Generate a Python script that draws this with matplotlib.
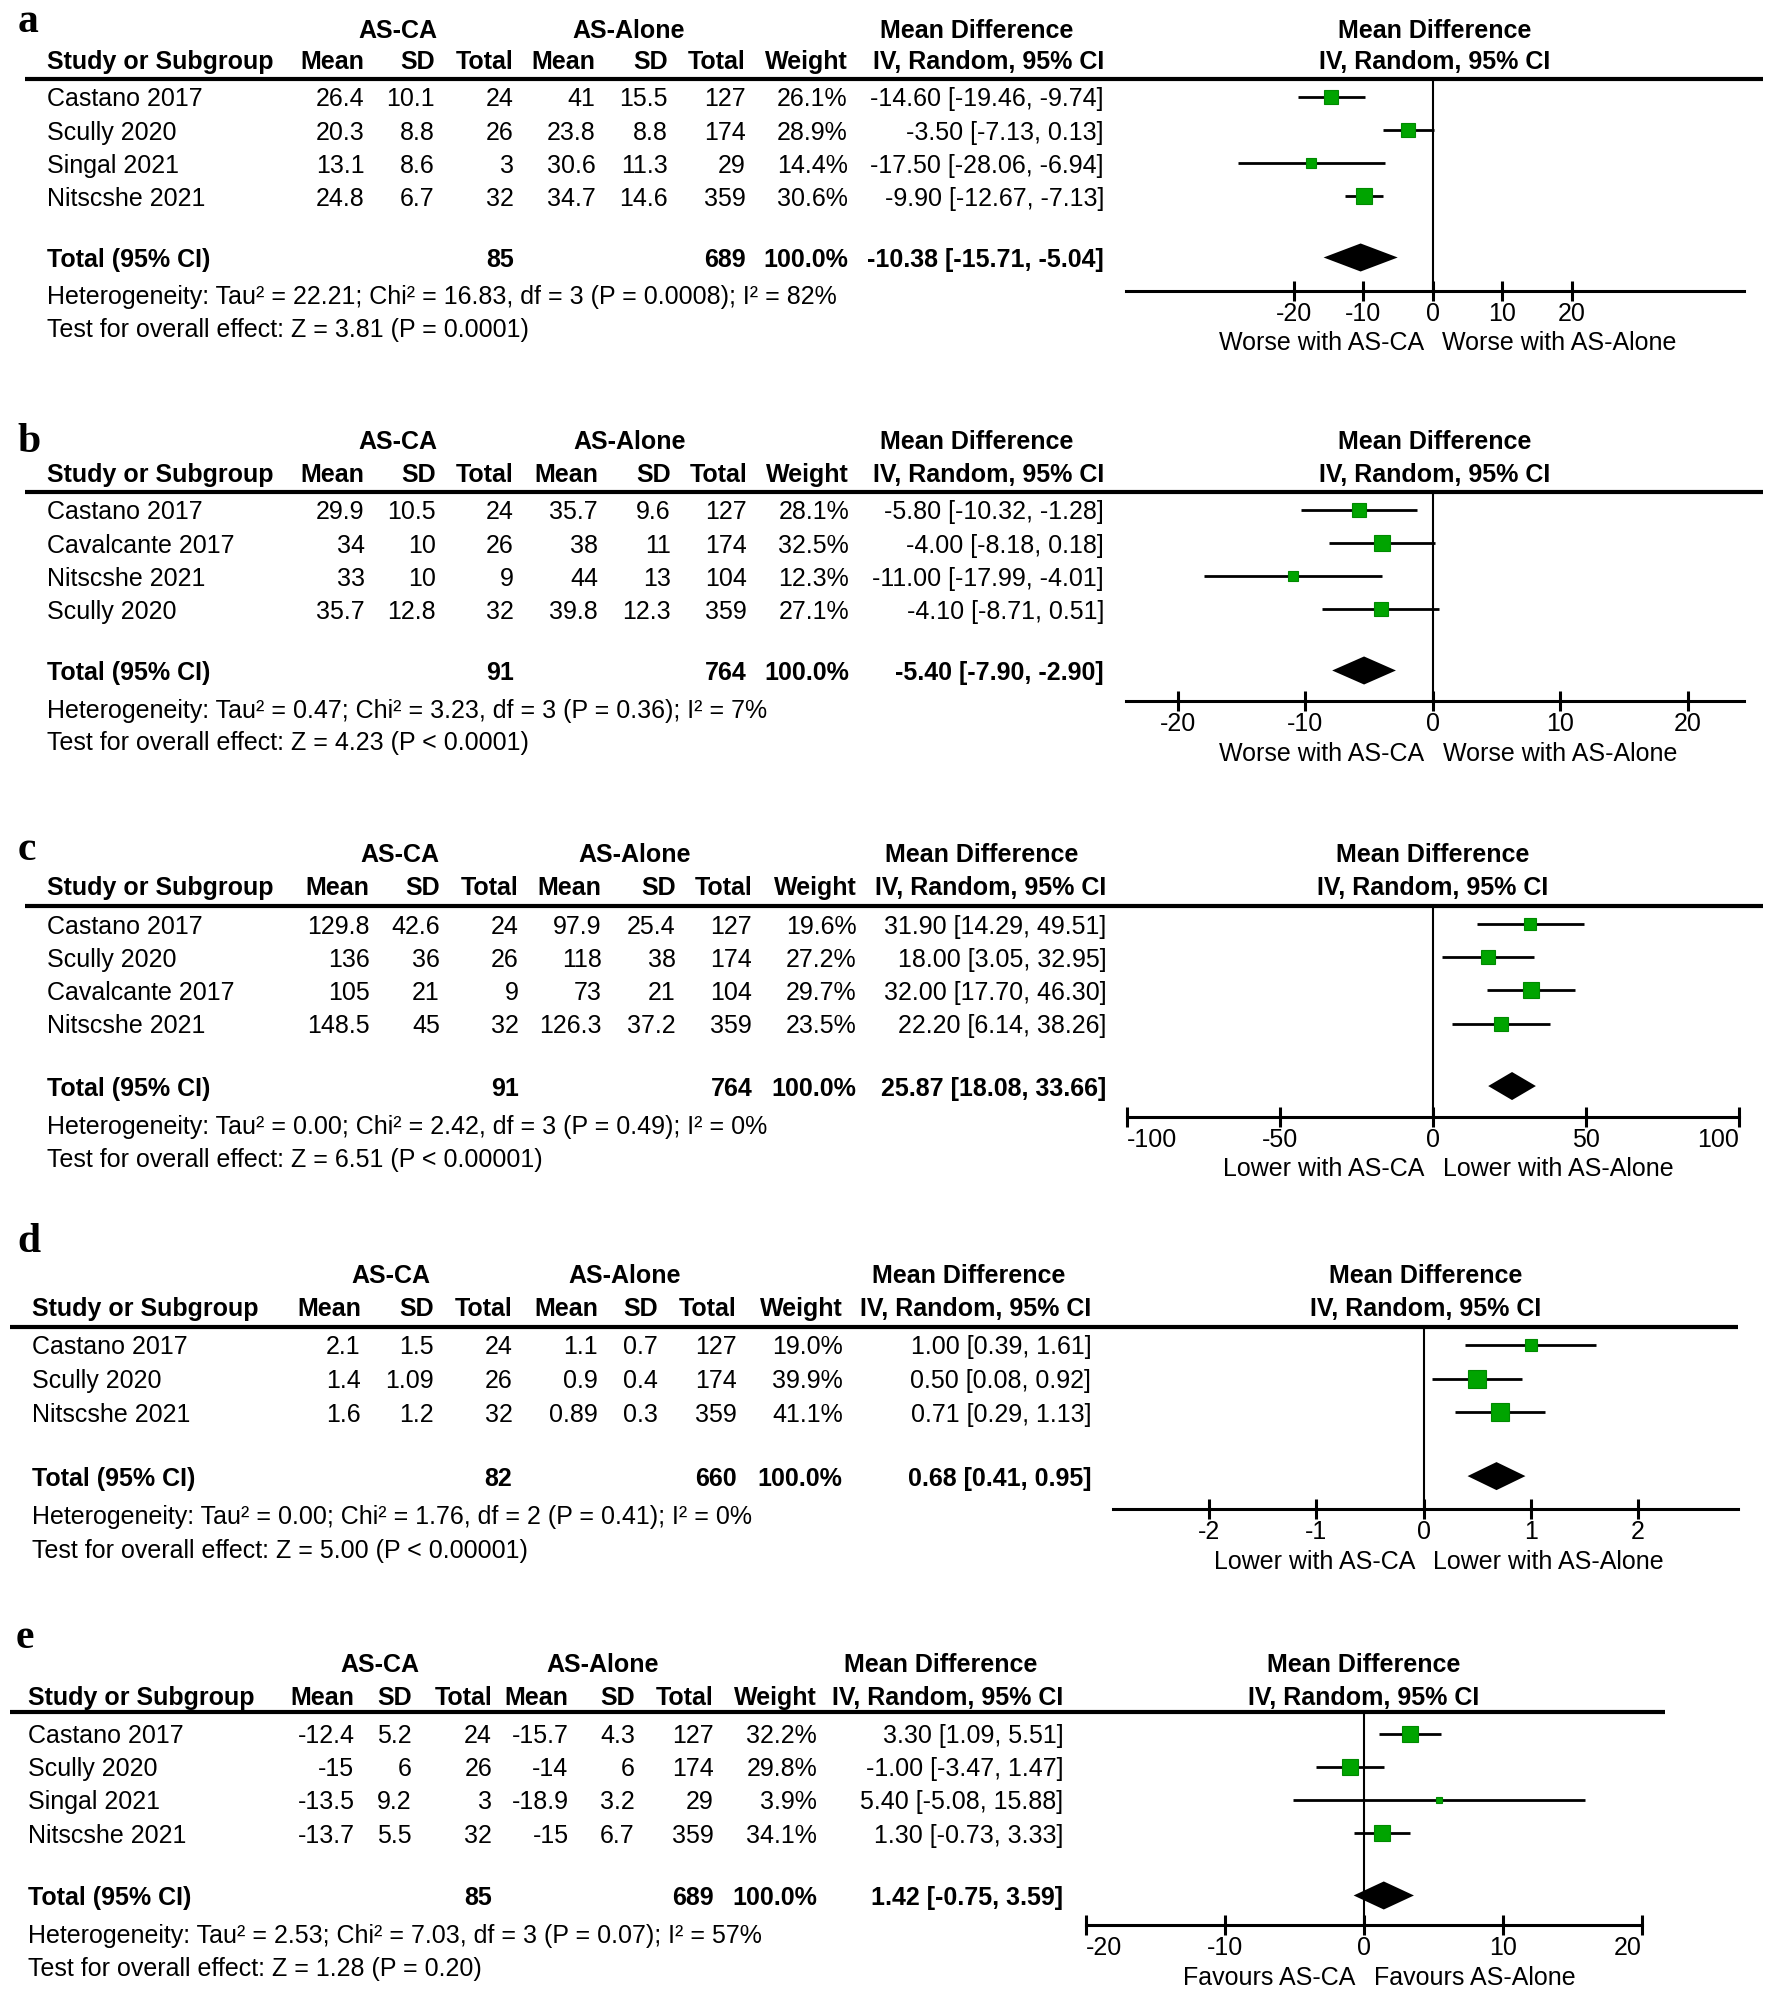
import numpy as np
import matplotlib
matplotlib.use("Agg")
import matplotlib.pyplot as plt

plt.rcParams["font.family"] = ["Liberation Sans", "DejaVu Sans"]

# ============================
# Data (one block per panel)
# ============================

# a
studies_a = ["Castano 2017", "Scully 2020", "Singal 2021", "Nitscshe 2021"]
ca_mean_a = [26.4, 20.3, 13.1, 24.8]
ca_sd_a = [10.1, 8.8, 8.6, 6.7]
ca_n_a = [24, 26, 3, 32]
al_mean_a = [41, 23.8, 30.6, 34.7]
al_sd_a = [15.5, 8.8, 11.3, 14.6]
al_n_a = [127, 174, 29, 359]
weight_a = [26.1, 28.9, 14.4, 30.6]
md_a = [-14.60, -3.50, -17.50, -9.90]
lo_a = [-19.46, -7.13, -28.06, -12.67]
hi_a = [-9.74, 0.13, -6.94, -7.13]
total_a = [85, 689, -10.38, -15.71, -5.04]
het_a = "Heterogeneity: Tau² = 22.21; Chi² = 16.83, df = 3 (P = 0.0008); I² = 82%"
test_a = "Test for overall effect: Z = 3.81 (P = 0.0001)"
ticks_a = [-20, -10, 0, 10, 20]
favours_a = ["Worse with AS-CA", "Worse with AS-Alone"]

# b
studies_b = ["Castano 2017", "Cavalcante 2017", "Nitscshe 2021", "Scully 2020"]
ca_mean_b = [29.9, 34, 33, 35.7]
ca_sd_b = [10.5, 10, 10, 12.8]
ca_n_b = [24, 26, 9, 32]
al_mean_b = [35.7, 38, 44, 39.8]
al_sd_b = [9.6, 11, 13, 12.3]
al_n_b = [127, 174, 104, 359]
weight_b = [28.1, 32.5, 12.3, 27.1]
md_b = [-5.80, -4.00, -11.00, -4.10]
lo_b = [-10.32, -8.18, -17.99, -8.71]
hi_b = [-1.28, 0.18, -4.01, 0.51]
total_b = [91, 764, -5.40, -7.90, -2.90]
het_b = "Heterogeneity: Tau² = 0.47; Chi² = 3.23, df = 3 (P = 0.36); I² = 7%"
test_b = "Test for overall effect: Z = 4.23 (P < 0.0001)"
ticks_b = [-20, -10, 0, 10, 20]
favours_b = ["Worse with AS-CA", "Worse with AS-Alone"]

# c
studies_c = ["Castano 2017", "Scully 2020", "Cavalcante 2017", "Nitscshe 2021"]
ca_mean_c = [129.8, 136, 105, 148.5]
ca_sd_c = [42.6, 36, 21, 45]
ca_n_c = [24, 26, 9, 32]
al_mean_c = [97.9, 118, 73, 126.3]
al_sd_c = [25.4, 38, 21, 37.2]
al_n_c = [127, 174, 104, 359]
weight_c = [19.6, 27.2, 29.7, 23.5]
md_c = [31.90, 18.00, 32.00, 22.20]
lo_c = [14.29, 3.05, 17.70, 6.14]
hi_c = [49.51, 32.95, 46.30, 38.26]
total_c = [91, 764, 25.87, 18.08, 33.66]
het_c = "Heterogeneity: Tau² = 0.00; Chi² = 2.42, df = 3 (P = 0.49); I² = 0%"
test_c = "Test for overall effect: Z = 6.51 (P < 0.00001)"
ticks_c = [-100, -50, 0, 50, 100]
favours_c = ["Lower with AS-CA", "Lower with AS-Alone"]

# d
studies_d = ["Castano 2017", "Scully 2020", "Nitscshe 2021"]
ca_mean_d = [2.1, 1.4, 1.6]
ca_sd_d = [1.5, 1.09, 1.2]
ca_n_d = [24, 26, 32]
al_mean_d = [1.1, 0.9, 0.89]
al_sd_d = [0.7, 0.4, 0.3]
al_n_d = [127, 174, 359]
weight_d = [19.0, 39.9, 41.1]
md_d = [1.00, 0.50, 0.71]
lo_d = [0.39, 0.08, 0.29]
hi_d = [1.61, 0.92, 1.13]
total_d = [82, 660, 0.68, 0.41, 0.95]
het_d = "Heterogeneity: Tau² = 0.00; Chi² = 1.76, df = 2 (P = 0.41); I² = 0%"
test_d = "Test for overall effect: Z = 5.00 (P < 0.00001)"
ticks_d = [-2, -1, 0, 1, 2]
favours_d = ["Lower with AS-CA", "Lower with AS-Alone"]

# e
studies_e = ["Castano 2017", "Scully 2020", "Singal 2021", "Nitscshe 2021"]
ca_mean_e = [-12.4, -15, -13.5, -13.7]
ca_sd_e = [5.2, 6, 9.2, 5.5]
ca_n_e = [24, 26, 3, 32]
al_mean_e = [-15.7, -14, -18.9, -15]
al_sd_e = [4.3, 6, 3.2, 6.7]
al_n_e = [127, 174, 29, 359]
weight_e = [32.2, 29.8, 3.9, 34.1]
md_e = [3.30, -1.00, 5.40, 1.30]
lo_e = [1.09, -3.47, -5.08, -0.73]
hi_e = [5.51, 1.47, 15.88, 3.33]
total_e = [85, 689, 1.42, -0.75, 3.59]
het_e = "Heterogeneity: Tau² = 2.53; Chi² = 7.03, df = 3 (P = 0.07); I² = 57%"
test_e = "Test for overall effect: Z = 1.28 (P = 0.20)"
ticks_e = [-20, -10, 0, 10, 20]
favours_e = ["Favours AS-CA", "Favours AS-Alone"]

# ============================
# Layout (page units: 1390 x 1569)
# ============================

W, H = 1390, 1569
FS = 18
DY = 2  # small downward nudge for text rows
GREEN = "#00a400"

fig = plt.figure(figsize=(17.72, 20), dpi=100)
lay = fig.add_axes([0, 0, 1, 1])
lay.set_xlim(0, W)
lay.set_ylim(H, 0)
lay.axis("off")


def fmt(v):
    return f"{v:g}"


def txt(x, y, s, **kw):
    kw.setdefault("fontsize", FS)
    kw.setdefault("va", "center")
    lay.text(x, y + DY, s, **kw)


def draw_panel(letter, lt, studies, cols, weight, md, lo, hi, total,
               het, test, ticks, favours):
    txt(lt["letter"][0], lt["letter"][1], letter, fontsize=30,
        fontweight="bold", family="Liberation Serif")

    g = lt["grp"]
    txt(g[0], lt["grp_y"], "AS-CA", fontweight="bold", ha="center")
    txt(g[1], lt["grp_y"], "AS-Alone", fontweight="bold", ha="center")
    txt(g[2], lt["grp_y"], "Mean Difference", fontweight="bold", ha="center")

    cx = lt["cols"]
    heads = ["Mean", "SD", "Total", "Mean", "SD", "Total", "Weight",
             "IV, Random, 95% CI"]
    txt(lt["study_x"], lt["col_y"], "Study or Subgroup", fontweight="bold")
    for x, h in zip(cx, heads):
        txt(x, lt["col_y"], h, fontweight="bold", ha="right")

    lay.plot(lt["line_x"], [lt["line_y"], lt["line_y"]], color="black",
             lw=3.0, solid_capstyle="butt")

    rows = [lt["row0"] + i * lt["step"] for i in range(len(studies))]
    for i, y in enumerate(rows):
        txt(lt["study_x"], y, studies[i])
        cells = [fmt(c[i]) for c in cols]
        cells.append(f"{weight[i]:.1f}%")
        cells.append(f"{md[i]:.2f} [{lo[i]:.2f}, {hi[i]:.2f}]")
        for x, s in zip(cx, cells):
            txt(x, y, s, ha="right")

    ty = lt["total_y"]
    txt(lt["study_x"], ty, "Total (95% CI)", fontweight="bold")
    tot_cells = [(cx[2], str(total[0])), (cx[5], str(total[1])),
                 (cx[6], "100.0%"),
                 (cx[7], f"{total[2]:.2f} [{total[3]:.2f}, {total[4]:.2f}]")]
    for x, s in tot_cells:
        txt(x, ty, s, fontweight="bold", ha="right")

    txt(lt["study_x"], lt["het_y"], het)
    txt(lt["study_x"], lt["test_y"], test)

    # forest plot
    x0, x1 = lt["fx"]
    yt, yb = lt["line_y"], lt["axis_y"]
    ax = fig.add_axes([x0 / W, 1 - yb / H, (x1 - x0) / W, (yb - yt) / H])
    ax.patch.set_alpha(0)
    xmin, xmax = lt["xlim"]
    ax.set_xlim(xmin, xmax)
    ax.set_ylim(yb, yt)
    for s in ["top", "left", "right"]:
        ax.spines[s].set_visible(False)
    ax.spines["bottom"].set_linewidth(2.2)
    ax.set_yticks([])
    ax.set_xticks(ticks)
    labels = ax.set_xticklabels([fmt(t) for t in ticks], fontsize=FS)
    if ticks[0] <= xmin:
        labels[0].set_ha("left")
    if ticks[-1] >= xmax:
        labels[-1].set_ha("right")
    ax.tick_params(axis="x", direction="inout", length=14, width=2.2, pad=1)
    ax.axvline(0, color="black", lw=1.5)

    for i, y in enumerate(rows):
        ax.plot([lo[i], hi[i]], [y, y], color="black", lw=2.0,
                solid_capstyle="butt")
        ax.plot(md[i], y, marker="s", ms=2.0 * np.sqrt(weight[i]),
                color=GREEN, mec="#008a00", mew=0.8)

    ax.fill([total[3], total[2], total[4], total[2]],
            [ty, ty - 11, ty, ty + 11], color="black", lw=0)

    cxm = (x0 + x1) / 2
    txt(cxm, lt["grp_y"], "Mean Difference", fontweight="bold", ha="center")
    txt(cxm, lt["col_y"], "IV, Random, 95% CI", fontweight="bold",
        ha="center")

    ax.annotate(favours[0], xy=(0, 0), xycoords=("data", "axes fraction"),
                xytext=(-6, -38), textcoords="offset points", fontsize=FS,
                ha="right", va="center", annotation_clip=False)
    ax.annotate(favours[1], xy=(0, 0), xycoords=("data", "axes fraction"),
                xytext=(7, -38), textcoords="offset points", fontsize=FS,
                ha="left", va="center", annotation_clip=False)


layout_a = dict(letter=(14, 15), grp_y=22, col_y=47, line_y=62,
                line_x=(20, 1383), row0=76, step=26, total_y=202,
                het_y=231, test_y=257, axis_y=228, study_x=37,
                cols=[286, 341, 403, 467, 524, 585, 665, 866],
                grp=(312, 493, 766), fx=(883, 1368), xlim=(-44.2, 44.8))
layout_b = dict(letter=(14, 345), grp_y=345, col_y=371, line_y=386,
                line_x=(20, 1383), row0=400, step=26, total_y=526,
                het_y=556, test_y=581, axis_y=550, study_x=37,
                cols=[286, 342, 403, 469, 526, 586, 666, 866],
                grp=(312, 494, 766), fx=(883, 1368), xlim=(-24.1, 24.4))
layout_c = dict(letter=(14, 665), grp_y=669, col_y=695, line_y=711,
                line_x=(20, 1383), row0=725, step=26, total_y=852,
                het_y=882, test_y=908, axis_y=876, study_x=37,
                cols=[290, 345, 407, 472, 530, 590, 672, 868],
                grp=(314, 498, 770), fx=(884, 1364), xlim=(-100, 100))
layout_d = dict(letter=(14, 972), grp_y=999, col_y=1025, line_y=1041,
                line_x=(8, 1363), row0=1055, step=26.5, total_y=1158,
                het_y=1188, test_y=1215, axis_y=1184, study_x=25,
                cols=[283, 340, 402, 469, 516, 578, 661, 856],
                grp=(307, 490, 760), fx=(873, 1363), xlim=(-2.9, 2.93))
layout_e = dict(letter=(12, 1283), grp_y=1304, col_y=1330, line_y=1343,
                line_x=(8, 1306), row0=1360, step=26, total_y=1487,
                het_y=1517, test_y=1543, axis_y=1510, study_x=22,
                cols=[278, 323, 386, 446, 498, 560, 641, 834],
                grp=(298, 473, 738), fx=(852, 1288), xlim=(-20, 20))

draw_panel("a", layout_a, studies_a,
           [ca_mean_a, ca_sd_a, ca_n_a, al_mean_a, al_sd_a, al_n_a],
           weight_a, md_a, lo_a, hi_a, total_a, het_a, test_a, ticks_a,
           favours_a)
draw_panel("b", layout_b, studies_b,
           [ca_mean_b, ca_sd_b, ca_n_b, al_mean_b, al_sd_b, al_n_b],
           weight_b, md_b, lo_b, hi_b, total_b, het_b, test_b, ticks_b,
           favours_b)
draw_panel("c", layout_c, studies_c,
           [ca_mean_c, ca_sd_c, ca_n_c, al_mean_c, al_sd_c, al_n_c],
           weight_c, md_c, lo_c, hi_c, total_c, het_c, test_c, ticks_c,
           favours_c)
draw_panel("d", layout_d, studies_d,
           [ca_mean_d, ca_sd_d, ca_n_d, al_mean_d, al_sd_d, al_n_d],
           weight_d, md_d, lo_d, hi_d, total_d, het_d, test_d, ticks_d,
           favours_d)
draw_panel("e", layout_e, studies_e,
           [ca_mean_e, ca_sd_e, ca_n_e, al_mean_e, al_sd_e, al_n_e],
           weight_e, md_e, lo_e, hi_e, total_e, het_e, test_e, ticks_e,
           favours_e)

fig.savefig("out.png", dpi=100, facecolor="white")
